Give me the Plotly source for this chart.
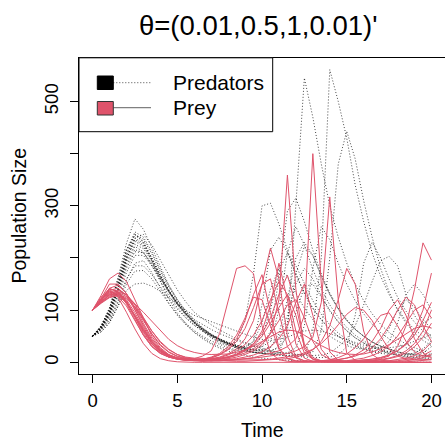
import plotly.graph_objects as go

# ---------------- data ----------------
time = [0, 0.5, 1, 1.5, 2, 2.5, 3, 3.5, 4, 4.5, 5, 5.5, 6, 6.5, 7, 7.5, 8, 8.5, 9, 9.5,
        10, 10.5, 11, 11.5, 12, 12.5, 13, 13.5, 14, 14.5, 15, 15.5, 16, 16.5, 17, 17.5,
        18, 18.5, 19, 19.5, 20]

prey_01 = [100,118,142,148,132,105,75,46,26,14,8,5,3, 2,2,3,4,5,7,9,13, 18,22,30,45,90,400,150,20,4,1, 0,0,0,0,0,0,0,0,0,0]
pred_01 = [50,68,98,148,205,245,232,200,165,135,110,90,74, 61,50,41,34,28,23,19,17, 15,13,12,12,14,60,200,561,500,430, 340,270,210,165,130,102,80,63,50,39]
prey_02 = [100,120,135,130,115,90,62,38,21,12,7,5,4, 3,4,5,7,10,15,22,34, 55,120,359,140,25,6,2,1,1,1, 1,1,1,2,2,3,5,8,13,22]
pred_02 = [50,66,92,138,190,222,212,185,155,128,105,86,71, 59,48,40,33,27,22,19,17, 16,18,60,300,545,470,380,300,240,190, 150,118,93,73,57,45,35,28,22,17]
prey_03 = [100,116,130,138,130,110,82,54,32,19,11,7,5, 4,3,3,4,5,6,8,10, 12,14,17,22,30,48,115,317,120,18, 4,1,1,1,1,2,3,5,9,15]
pred_03 = [50,63,86,125,172,205,205,185,160,136,115,97,82, 72,63,55,48,42,36,31,26, 22,19,17,15,15,20,60,200,380,443, 390,310,240,180,135,100,75,56,42,32]
prey_04 = [100,122,142,135,112,82,52,30,17,10,7,6,7, 12,22,55,120,180,185,170,70, 18,5,2,1,1,1,2,3,5,8, 12,18,28,45,70,100,125,110,70,40]
pred_04 = [50,70,104,162,228,275,255,220,182,148,120,96,77, 60,47,37,32,40,80,170,300, 305,265,215,170,133,104,82,64,50,40, 32,26,22,20,20,24,35,55,75,85]
prey_05 = [100,119,138,142,128,100,70,43,24,14,9,6,5, 5,7,10,16,26,45,80,150, 219,160,50,10,3,1,1,1,1,2, 3,4,6,9,14,22,34,52,80,115]
pred_05 = [50,66,94,142,198,235,225,198,166,138,113,93,76, 63,52,43,36,30,26,24,30, 60,160,290,315,270,215,170,133,104,82, 64,50,39,31,25,20,16,14,13,13]
prey_06 = [100,115,125,130,124,106,80,55,34,20,12,8,6, 5,4,4,4,4,4,5,5, 6,8,10,13,18,25,36,52,72,92, 105,100,80,50,25,12,7,5,5,6]
pred_06 = [50,62,82,118,160,185,185,168,145,122,102,85,71, 60,51,44,38,33,29,26,24, 21,19,17,15,14,13,14,18,30,45, 70,110,155,195,203,185,130,90,65,50]
prey_07 = [100,121,132,126,108,80,52,30,17,10,6,4,4, 4,6,9,14,22,34,52,80, 120,155,130,60,18,6,3,2,2,2, 2,3,4,7,12,30,70,140,229,196]
pred_07 = [50,67,96,145,200,232,222,195,164,136,112,92,76, 63,52,43,36,30,26,23,22, 28,55,120,200,230,205,165,130,102,80, 63,50,39,31,25,20,17,16,18,30]
prey_08 = [100,117,128,132,120,95,65,40,23,13,8,6,5, 6,9,15,26,45,80,130,168, 95,28,7,2,1,1,1,1,2,3, 5,8,13,20,32,50,75,100,110,85]
pred_08 = [50,64,90,133,185,216,210,188,160,134,111,92,76, 63,52,43,36,30,27,40,110, 215,240,210,168,132,103,81,63,50,39, 31,25,20,17,15,14,15,18,26,40]
prey_09 = [100,114,126,135,130,112,86,60,38,24,15,10,8, 7,7,8,11,16,24,36,55, 85,130,167,110,35,9,3,2,1,1, 1,2,3,4,7,11,18,30,48,75]
pred_09 = [50,61,80,114,158,190,195,172,142,114,90,72,58, 47,37,30,25,22,20,19,19, 21,30,75,170,222,205,165,130,102,80, 63,50,39,31,25,20,16,14,13,14]
prey_10 = [100,120,136,134,118,90,60,36,20,11,6,4,3, 3,3,4,5,7,10,14,20, 30,45,70,115,150,90,25,6,2,1, 1,1,1,2,3,5,8,13,22,38]
pred_10 = [50,66,97,148,206,238,228,200,168,139,114,93,76, 62,51,42,34,28,24,20,18, 17,16,18,28,70,180,260,235,190,150, 118,93,73,57,45,35,28,22,18,15]
prey_11 = [100,125,140,125,96,64,36,17,7,3,1,0,0, 0,0,0,0,0,0,0,0, 0,0,0,0,0,0,0,0,0,0, 0,0,0,0,0,0,0,0,0,0]
pred_11 = [50,70,104,158,216,245,230,195,156,121,95,74,57, 45,35,27,21,17,13,10,8, 6,5,4,3,2,2,1,1,1,1, 0,0,0,0,0,0,0,0,0,0]
prey_12 = [100,118,131,128,114,90,63,40,24,14,8,5,4, 4,5,7,9,13,18,26,38, 55,80,110,120,85,40,15,6,3,2, 3,4,6,9,14,22,36,60,100,171]
pred_12 = [50,64,88,130,180,212,210,190,162,136,113,94,78, 65,54,45,38,32,27,23,21, 22,28,50,95,145,150,125,98,77,60, 47,37,29,23,18,14,11,9,8,7]
prey_13 = [100,119,134,132,116,88,58,35,20,12,7,5,5, 6,10,17,30,52,85,125,120, 70,25,8,3,2,2,3,5,9,16, 28,45,68,90,95,70,40,20,12,10]
pred_13 = [50,65,92,138,194,226,218,194,164,137,113,93,77, 64,53,44,37,31,30,40,75, 140,180,165,132,104,82,64,50,40,32, 27,25,28,40,65,100,120,105,82,64]
prey_14 = [100,122,150,150,132,102,68,40,22,12,7,4,3, 4,5,7,10,15,22,33,50, 75,105,130,90,30,6,1,0,0,0, 0,0,0,0,0,0,0,0,0,0]
pred_14 = [50,68,100,154,215,250,240,212,178,147,121,99,81, 66,54,45,37,31,27,24,24, 30,48,90,150,180,160,128,100,78,61, 47,37,29,22,17,13,10,8,6,5]
prey_15 = [100,113,124,128,122,106,84,60,40,25,15,9,6, 4,3,3,2,2,2,3,3, 4,5,7,10,15,24,40,70,120,180, 150,60,15,4,2,1,1,2,3,5]
pred_15 = [50,58,76,108,150,175,176,160,136,112,92,75,61, 50,41,34,28,24,21,19,17, 16,15,13,12,10,9,9,10,14,30, 90,190,230,200,160,125,98,77,60,47]
prey_16 = [100,121,140,136,116,86,55,32,18,10,6,4,4, 5,8,14,24,40,65,105,150, 160,95,30,8,3,2,2,3,5,8, 14,24,40,65,100,120,90,45,18,9]
pred_16 = [50,69,101,152,212,245,236,208,174,144,118,96,79, 65,53,43,36,30,27,30,50, 100,175,210,185,150,118,92,72,56,44, 35,29,26,28,40,75,130,150,130,100]
prey_17 = [100,116,129,134,126,112,96,78,60,44,32,24,19, 16,15,15,16,19,24,31,40, 50,58,62,60,52,42,32,24,19,16, 15,16,20,26,34,44,55,65,70,66]
pred_17 = [50,58,76,106,138,150,152,146,136,124,112,100,90, 84,78,72,66,60,54,48,44, 42,44,48,55,60,62,60,55,49,43, 38,33,30,28,28,30,34,40,47,54]
prey_18 = [100,128,160,171,155,120,82,50,28,15,8,5,4, 3,4,6,9,14,22,35,60, 110,190,120,35,8,2,1,1,1,1, 1,2,3,5,8,13,22,36,60,100]
pred_18 = [50,66,94,140,198,238,245,225,196,166,139,116,96, 84,72,62,53,45,38,32,30, 40,100,210,260,225,178,140,110,86,67, 52,41,32,25,20,16,13,11,10,10]

prey_runs = [prey_01, prey_02, prey_03, prey_04, prey_05, prey_06, prey_07, prey_08, prey_09,
             prey_10, prey_11, prey_12, prey_13, prey_14, prey_15, prey_16, prey_17, prey_18]
pred_runs = [pred_01, pred_02, pred_03, pred_04, pred_05, pred_06, pred_07, pred_08, pred_09,
             pred_10, pred_11, pred_12, pred_13, pred_14, pred_15, pred_16, pred_17, pred_18]

x_ticks = [0, 5, 10, 15, 20]
y_ticks = [0, 100, 200, 300, 400, 500]
y_tick_text = ["0", "100", "", "300", "", "500"]
title_text = "θ=(0.01,0.5,1,0.01)'"
legend_labels = ["Predators", "Prey"]

for r in prey_runs + pred_runs:
    assert len(r) == len(time), len(r)

# ---------------- style ----------------
FONT = "Liberation Sans, Arial, Helvetica, sans-serif"
PINK = "#DF536B"
PRED_COL = "rgba(0,0,0,0.72)"
W, H = 445, 440
ML, MR, MT, MB = 79, 0, 58, 66
PW, PH = W - ML - MR, H - MT - MB


def px_x(p):
    return (p - ML) / PW


def px_y(p):
    return (H - MB - p) / PH


fig = go.Figure()
for r in pred_runs:
    fig.add_trace(go.Scatter(x=time, y=r, mode="lines", showlegend=False, hoverinfo="skip",
                             line=dict(color=PRED_COL, width=1, dash="1px,2px")))
for r in prey_runs:
    fig.add_trace(go.Scatter(x=time, y=r, mode="lines", showlegend=False, hoverinfo="skip",
                             line=dict(color=PINK, width=1)))

axis_common = dict(showline=True, mirror=True, linecolor="black", linewidth=1,
                   showgrid=False, zeroline=False, ticks="outside", ticklen=8,
                   tickcolor="black", tickwidth=1,
                   tickfont=dict(family=FONT, size=18.5, color="black"))

fig.update_layout(
    width=W, height=H,
    margin=dict(l=ML, r=MR, t=MT, b=MB, pad=0),
    paper_bgcolor="white", plot_bgcolor="white",
    xaxis=dict(range=[-0.8, 20.8], tickvals=x_ticks, ticklabelstandoff=2, **axis_common),
    yaxis=dict(range=[-22.4, 583.4], tickvals=y_ticks, ticktext=y_tick_text,
               tickangle=-90, ticklabelstandoff=5, **axis_common),
    showlegend=False,
)

ann = []
ann.append(dict(text=title_text, x=px_x(258.3), y=px_y(25.5), xref="paper", yref="paper",
                showarrow=False, xanchor="center", yanchor="middle",
                font=dict(family=FONT, size=27.5, color="black")))
ann.append(dict(text="Time", x=0.5, y=px_y(430), xref="paper", yref="paper",
                showarrow=False, xanchor="center", yanchor="middle",
                font=dict(family=FONT, size=19.5, color="black")))
ann.append(dict(text="Population Size", x=px_x(18.5), y=0.5, xref="paper", yref="paper",
                showarrow=False, xanchor="center", yanchor="middle", textangle=-90,
                font=dict(family=FONT, size=19.5, color="black")))
for lab, yc in zip(legend_labels, [82.7, 107.7]):
    ann.append(dict(text=lab, x=px_x(170.7), y=px_y(yc), xref="paper", yref="paper",
                    showarrow=False, xanchor="left", yanchor="middle",
                    font=dict(family=FONT, size=21, color="black")))
fig.update_layout(annotations=ann)

shapes = []
shapes.append(dict(type="rect", xref="paper", yref="paper", layer="above",
                   x0=px_x(79), x1=px_x(272.7), y0=px_y(131.7), y1=px_y(57.8),
                   line=dict(color="black", width=1), fillcolor="white"))
# predators key
shapes.append(dict(type="line", xref="paper", yref="paper", layer="above",
                   x0=px_x(113.3), x1=px_x(151.7), y0=px_y(82.7), y1=px_y(82.7),
                   line=dict(color=PRED_COL, width=1, dash="1px,2px")))
shapes.append(dict(type="rect", xref="paper", yref="paper", layer="above",
                   x0=px_x(97.3), x1=px_x(113.3), y0=px_y(89.5), y1=px_y(76),
                   line=dict(color="black", width=1), fillcolor="black"))
# prey key
shapes.append(dict(type="line", xref="paper", yref="paper", layer="above",
                   x0=px_x(113.3), x1=px_x(151), y0=px_y(107.7), y1=px_y(107.7),
                   line=dict(color="#808080", width=1.2)))
shapes.append(dict(type="rect", xref="paper", yref="paper", layer="above",
                   x0=px_x(97.3), x1=px_x(113.3), y0=px_y(115), y1=px_y(101.5),
                   line=dict(color="#333333", width=1), fillcolor=PINK))
fig.update_layout(shapes=shapes)

fig.write_html("out.html")
